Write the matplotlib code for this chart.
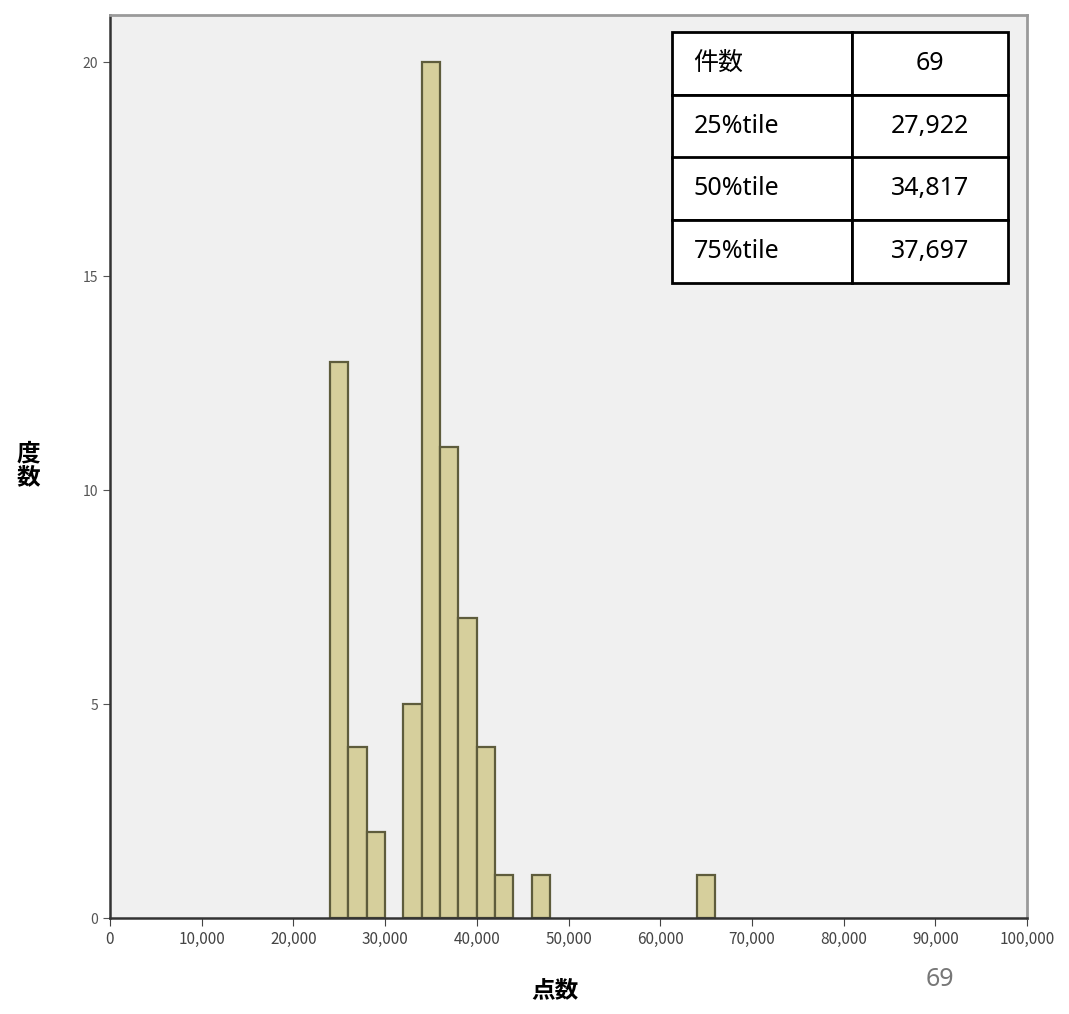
import matplotlib
matplotlib.use("Agg")
import matplotlib.pyplot as plt
from matplotlib.ticker import FuncFormatter

plt.rcParams['font.family'] = ['Noto Sans CJK JP', 'DejaVu Sans']

# --- data ---
bin_lefts = [24000, 26000, 28000, 32000, 34000, 36000, 38000, 40000, 42000, 46000, 64000]
counts = [13, 4, 2, 5, 20, 11, 7, 4, 1, 1, 1]
bin_width = 2000

x_ticks = list(range(0, 100001, 10000))
y_ticks = [0, 5, 10, 15, 20]

stat_labels = ["件数", "25%tile", "50%tile", "75%tile"]
stat_values = ["69", "27,922", "34,817", "37,697"]

fig = plt.figure(figsize=(10.69, 10.14), dpi=100)
ax = fig.add_axes([110 / 1069, 96 / 1014, 917 / 1069, 903 / 1014])
ax.set_facecolor("#f0f0f0")

ax.bar(bin_lefts, counts, width=bin_width, align="edge",
       color="#d6cf9c", edgecolor="#5e5c3c", linewidth=1.6)

ax.set_xlim(0, 100000)
ax.set_ylim(0, 21.1)
ax.set_xticks(x_ticks)
ax.set_yticks(y_ticks)
ax.xaxis.set_major_formatter(FuncFormatter(lambda v, p: f"{int(v):,}"))
ax.tick_params(axis="x", labelsize=11, colors="#444444", length=6, direction="out")
ax.tick_params(axis="y", labelsize=10, colors="#555555", length=5, direction="out")

for side in ["left", "bottom"]:
    ax.spines[side].set_color("#333333")
    ax.spines[side].set_linewidth(1.8)
for side in ["top", "right"]:
    ax.spines[side].set_color("#9a9a9a")
    ax.spines[side].set_linewidth(2.0)

# stats table in the upper right
tbl = ax.table(cellText=[[a, b] for a, b in zip(stat_labels, stat_values)],
               colWidths=[0.536, 0.464],
               bbox=[(672 - 110) / 917, (918 - 283) / 903, 336 / 917, 251 / 903])
tbl.auto_set_font_size(False)
for (r, c), cell in tbl.get_celld().items():
    cell.set_facecolor("white")
    cell.set_edgecolor("black")
    cell.set_linewidth(2.0)
    txt = cell.get_text()
    txt.set_fontsize(18)
    txt.set_fontfamily(['Noto Sans', 'Noto Sans CJK JP'])
    if c == 0:
        txt.set_ha("left")
        cell.PAD = 0.12
    else:
        txt.set_ha("center")

fig.text(28 / 1069, 1 - 465 / 1014, "度\n数", fontsize=17, fontweight="bold",
         ha="center", va="center", linespacing=1.0)
fig.text(555 / 1069, 1 - 990 / 1014, "点数", fontsize=17, fontweight="bold",
         ha="center", va="center")
fig.text(940 / 1069, 1 - 980 / 1014, "69", fontsize=18, color="#777777",
         ha="center", va="center", family=['Noto Sans', 'DejaVu Sans'])

fig.savefig("out.png", dpi=100)
